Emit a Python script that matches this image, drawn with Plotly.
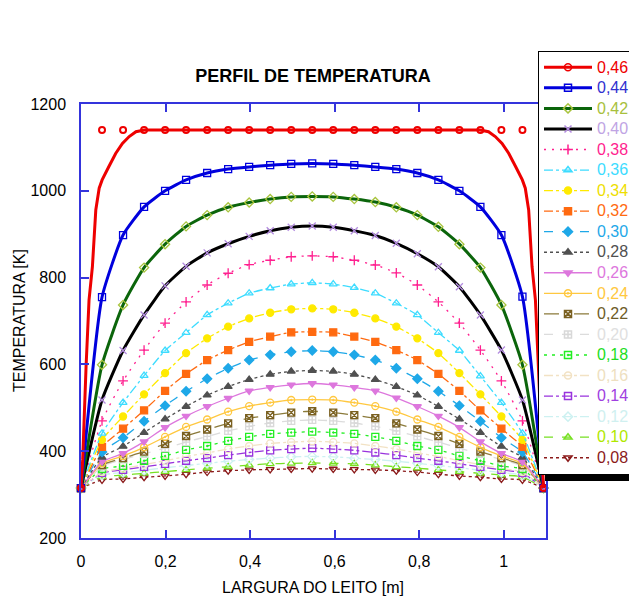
import plotly.graph_objects as go

# ---------------- data ----------------
BED_WIDTH = 1.094          # width of the bed [m] (last measured point)
N_POINTS = 23
X_MARK = [round(i * BED_WIDTH / (N_POINTS - 1), 4) for i in range(N_POINTS)]

LABELS = ["0,46", "0,44", "0,42", "0,40", "0,38", "0,36", "0,34", "0,32", "0,30", "0,28",
          "0,26", "0,24", "0,22", "0,20", "0,18", "0,16", "0,14", "0,12", "0,10", "0,08"]

T046 = [315, 1140, 1140, 1140, 1140, 1140, 1140, 1140, 1140, 1140, 1140, 1140, 1140, 1140, 1140, 1140, 1140, 1140, 1140, 1140, 1140, 1140, 315]
T044 = [315, 755, 898, 963, 1000, 1025, 1041, 1050, 1055, 1059, 1062, 1063, 1062, 1059, 1055, 1050, 1041, 1025, 1000, 963, 898, 756, 315]
T042 = [315, 599, 737, 823, 877, 918, 944, 962, 973, 981, 986, 987, 986, 981, 974, 962, 944, 917, 877, 823, 737, 599, 315]
T040 = [315, 518, 632, 714, 781, 826, 857, 878, 895, 908, 916, 919, 916, 908, 897, 879, 855, 825, 779, 714, 633, 518, 315]
T038 = [315, 470, 562, 633, 695, 744, 783, 810, 830, 840, 848, 850, 848, 840, 829, 811, 783, 744, 695, 633, 562, 470, 315]
T036 = [315, 441, 512, 574, 632, 673, 714, 741, 764, 776, 785, 788, 785, 777, 764, 741, 714, 673, 632, 573, 512, 441, 315]
T034 = [315, 426, 480, 531, 580, 626, 660, 687, 706, 719, 727, 729, 727, 719, 706, 687, 660, 626, 580, 531, 480, 426, 315]
T032 = [315, 410, 452, 494, 539, 578, 610, 633, 652, 664, 674, 675, 674, 664, 652, 633, 610, 578, 539, 494, 452, 410, 315]
T030 = [315, 398, 431, 469, 505, 538, 567, 591, 610, 622, 629, 632, 629, 622, 610, 591, 567, 538, 505, 469, 431, 398, 315]
T028 = [315, 386, 411, 443, 474, 503, 529, 549, 565, 577, 584, 586, 584, 577, 565, 549, 529, 503, 474, 443, 411, 386, 315]
T026 = [315, 376, 395, 422, 455, 481, 503, 522, 539, 547, 553, 556, 553, 547, 539, 523, 503, 481, 455, 422, 395, 376, 315]
T024 = [315, 372, 389, 409, 433, 456, 473, 491, 504, 512, 518, 519, 518, 512, 504, 491, 473, 456, 433, 409, 389, 372, 315]
T022 = [315, 368, 384, 399, 417, 435, 450, 464, 476, 483, 489, 492, 489, 483, 476, 464, 450, 435, 417, 399, 384, 368, 315]
T020 = [315, 365, 381, 394, 407, 421, 434, 447, 457, 465, 470, 472, 470, 465, 457, 447, 434, 421, 407, 394, 381, 365, 315]
T018 = [315, 359, 366, 378, 389, 403, 412, 424, 433, 440, 443, 445, 443, 440, 433, 424, 412, 403, 389, 378, 366, 359, 315]
T016 = [315, 352, 360, 369, 378, 388, 396, 405, 412, 418, 421, 423, 421, 418, 412, 405, 396, 388, 378, 369, 360, 352, 315]
T014 = [315, 350, 357, 364, 371, 378, 384, 391, 397, 402, 405, 407, 405, 402, 397, 391, 384, 378, 371, 364, 357, 350, 315]
T012 = [315, 345, 351, 356, 362, 367, 372, 377, 381, 384, 387, 388, 387, 384, 381, 377, 372, 367, 362, 356, 351, 345, 315]
T010 = [315, 341, 345, 349, 353, 357, 361, 364, 368, 371, 372, 373, 372, 371, 368, 364, 361, 357, 353, 349, 345, 341, 315]
T008 = [315, 334, 336, 340, 343, 347, 352, 355, 357, 358, 359, 360, 359, 358, 357, 355, 352, 347, 343, 340, 336, 334, 315]

# the 0,46 curve line is drawn on a finer grid than its markers
RED_LINE_X = [0, 0.004, 0.012, 0.019, 0.027, 0.035, 0.043, 0.05, 0.066, 0.082, 0.098, 0.114, 0.13, 0.15,
              0.3, 0.55, 0.8, 0.944, 0.964, 0.98, 0.996, 1.012, 1.028, 1.044, 1.051, 1.059, 1.067, 1.075,
              1.082, 1.09, 1.094]
RED_LINE_T = [315, 380, 595, 748, 825, 956, 1006, 1025, 1056, 1086, 1109, 1125, 1136, 1140,
              1140, 1140, 1140, 1140, 1136, 1125, 1109, 1086, 1056, 1025, 1006, 956, 825, 748,
              595, 380, 315]

SERIES = [T046, T044, T042, T040, T038, T036, T034, T032, T030, T028,
          T026, T024, T022, T020, T018, T016, T014, T012, T010, T008]

X_TICKS = [0, 0.2, 0.4, 0.6, 0.8, 1.0]
X_TICK_TEXT = ["0", "0,2", "0,4", "0,6", "0,8", "1"]
Y_TICKS = [200, 400, 600, 800, 1000, 1200]

# ---------------- styles ----------------
# (line colour, line width, dash, marker symbol, marker colour, label colour)
STYLES = [
    ("#ee0000", 3, "solid", "circle-open", "#ee0000", "#ee0000"),
    ("#0000dd", 3, "solid", "square-open", "#0000dd", "#3030d0"),
    ("#0b650b", 3, "solid", "diamond-open", "#a8c43c", "#a8c03c"),
    ("#000000", 3, "solid", "x-thin-open", "#b48ce0", "#c0a4e4"),
    ("#ff1f8f", 1.3, "2px,6px", "cross-thin-open", "#ff1f8f", "#ff1f8f"),
    ("#3ddcff", 1.3, "dashdot", "triangle-up-open", "#3ddcff", "#3ddcff"),
    ("#ffea00", 1.3, "dashdot", "circle", "#ffea00", "#eede00"),
    ("#ff6a10", 1.3, "dashdot", "square", "#ff6a10", "#ff6a10"),
    ("#1ea8e8", 1.3, "dash", "diamond", "#1ea8e8", "#1ea8e8"),
    ("#505050", 1.3, "dot", "triangle-up", "#505050", "#505050"),
    ("#dd77dd", 1.3, "solid", "triangle-down", "#dd77dd", "#dd77dd"),
    ("#ffc840", 1.3, "solid", "circle-open-dot", "#ffc840", "#ffc840"),
    ("#8b7a3a", 1.3, "longdash", "square-x-open", "#7a6020", "#6e5c28"),
    ("#dcdcdc", 1.3, "dash", "square-cross-open", "#d8d8d8", "#e0e0e0"),
    ("#22ee22", 1.3, "3px,5px", "square-open-dot", "#22ee22", "#22dd22"),
    ("#f2e2c4", 1.3, "dashdot", "circle-open", "#f2e2c4", "#eedfc0"),
    ("#9933dd", 1.3, "dashdot", "square-open", "#9933dd", "#a040e0"),
    ("#cdf1f1", 1.3, "dashdot", "diamond-open", "#cdf1f1", "#d0f0f0"),
    ("#77e022", 1.3, "dash", "triangle-up-open", "#77e022", "#b0e800"),
    ("#8b1a1a", 1.3, "dot", "triangle-down-open", "#8b1a1a", "#8b1a1a"),
]

FONT = "Arial, Liberation Sans, sans-serif"
AXIS_BLUE = "#3434dc"

# page body has an 8px margin: work in reference pixels and shift
OFF = 8
W, H = 637 - OFF, 599 - OFF
L, R, T, B = 81 - OFF, 546 - OFF, 104 - OFF, 538 - OFF


def px_x(p):
    return (p - OFF - L) / (R - L)


def px_y(p):
    return (B - (p - OFF)) / (B - T)


fig = go.Figure()

# legend-only entries (in order)
for lab, (lc, lw, dash, sym, mc, tc) in zip(LABELS, STYLES):
    fig.add_trace(go.Scatter(
        x=[None], y=[None], mode="lines+markers",
        name=f"<span style='color:{tc};font-size:16px'>{lab}</span>",
        line=dict(color=lc, width=lw, dash=dash),
        marker=dict(symbol=sym, color=mc, size=7, line=dict(color=mc, width=1.5)),
        showlegend=True))

# data traces, lowest curve first so the hot curves are on top
for i in reversed(range(len(SERIES))):
    lc, lw, dash, sym, mc, tc = STYLES[i]
    if i == 0:
        fig.add_trace(go.Scatter(x=RED_LINE_X, y=RED_LINE_T, mode="lines",
                                 line=dict(color=lc, width=lw), showlegend=False,
                                 cliponaxis=False))
        fig.add_trace(go.Scatter(x=X_MARK, y=SERIES[0], mode="markers",
                                 marker=dict(symbol=sym, color=mc, size=6, line=dict(color=mc, width=2)),
                                 showlegend=False, cliponaxis=False))
    else:
        fig.add_trace(go.Scatter(
            x=X_MARK, y=SERIES[i], mode="lines+markers",
            line=dict(color=lc, width=lw, dash=dash, shape="spline", smoothing=0.5),
            marker=dict(symbol=sym, color=mc, size=7, line=dict(color=mc, width=1.3)),
            showlegend=False, cliponaxis=False))

# legend drop shadow
fig.add_shape(type="rect", xref="paper", yref="paper",
              x0=px_x(545), x1=px_x(720), y0=px_y(481), y1=px_y(62),
              fillcolor="black", line=dict(width=0), layer="above")

fig.update_layout(
    width=W, height=H,
    margin=dict(l=L, r=W - R, t=T, b=H - B, autoexpand=False),
    paper_bgcolor="white", plot_bgcolor="white",
    font=dict(family=FONT, color="black", size=16),
    title=dict(text="<b>PERFIL DE TEMPERATURA</b>", x=px_x(313), xref="paper",
               y=1 - (76 - OFF) / H, yref="container", xanchor="center", yanchor="middle",
               font=dict(size=18, family=FONT, color="black")),
    xaxis=dict(range=[0, 1.1], tickvals=X_TICKS, ticktext=X_TICK_TEXT,
               showgrid=False, zeroline=False, showline=True, linecolor=AXIS_BLUE, linewidth=1.5,
               mirror="ticks", ticks="inside", ticklen=8, tickwidth=1.5, tickcolor=AXIS_BLUE,
               tickfont=dict(size=16, family=FONT, color="black"), ticklabelstandoff=8),
    yaxis=dict(range=[200, 1200], tickvals=Y_TICKS,
               showgrid=False, zeroline=False, showline=True, linecolor=AXIS_BLUE, linewidth=1.5,
               mirror="ticks", ticks="inside", ticklen=8, tickwidth=1.5, tickcolor=AXIS_BLUE,
               tickfont=dict(size=16, family=FONT, color="black"), ticklabelstandoff=10),
    legend=dict(x=px_x(538), y=px_y(475), xanchor="left", yanchor="bottom",
                bgcolor="white", bordercolor="black", borderwidth=1,
                font=dict(size=13.5, family=FONT), itemwidth=48, tracegroupgap=0,
                traceorder="normal"),
    annotations=[
        dict(text="LARGURA DO LEITO [m]", xref="paper", yref="paper",
             x=px_x(313), y=px_y(587), showarrow=False, xanchor="center", yanchor="middle",
             font=dict(size=16, family=FONT, color="black")),
        dict(text="TEMPERATURA [K]", xref="paper", yref="paper",
             x=px_x(19), y=px_y(321), showarrow=False, xanchor="center", yanchor="middle",
             textangle=-90, font=dict(size=16, family=FONT, color="black")),
    ],
)

fig.write_html("out.html")
